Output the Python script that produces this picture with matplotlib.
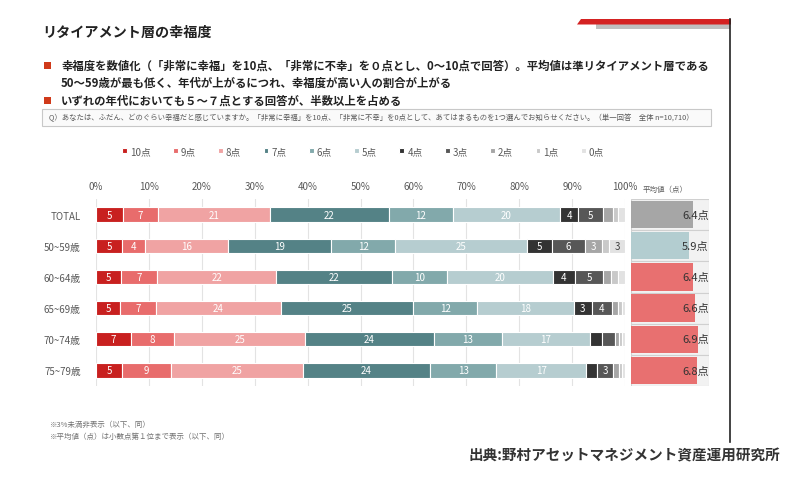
import matplotlib
matplotlib.use('Agg')
import matplotlib.pyplot as plt
from matplotlib.patches import Rectangle, Polygon
import numpy as np

plt.rcParams['font.family'] = ['Noto Sans CJK JP', 'DejaVu Sans']

# --- data ---
groups = ['TOTAL', '50~59歳', '60~64歳', '65~69歳', '70~74歳', '75~79歳']
scores = ['10点', '9点', '8点', '7点', '6点', '5点', '4点', '3点', '2点', '1点', '0点']

total = [5.1, 6.6, 21.2, 22.4, 12.1, 20.3, 3.5, 4.6, 2.0, 0.9, 1.3]
age_50_59 = [4.9, 4.4, 15.7, 19.4, 12.2, 24.9, 4.7, 6.2, 3.2, 1.4, 3.0]
age_60_64 = [4.7, 6.9, 22.4, 22.0, 10.3, 20.0, 4.2, 5.4, 1.4, 1.3, 1.4]
age_65_69 = [4.6, 6.7, 23.7, 25.0, 12.1, 18.2, 3.4, 3.8, 1.2, 0.7, 0.6]
age_70_74 = [6.6, 8.2, 24.7, 24.3, 12.9, 16.6, 2.4, 2.4, 0.7, 0.6, 0.6]
age_75_79 = [4.9, 9.3, 25.0, 23.9, 12.6, 16.9, 2.2, 3.0, 1.1, 0.5, 0.6]

averages = [6.4, 5.9, 6.4, 6.6, 6.9, 6.8]

seg_colors = ['#c8201f', '#e86c6c', '#f0a3a3', '#548286', '#82a9ab', '#b6cdd0',
              '#333333', '#575757', '#a6a6a6', '#c9c9c9', '#e2e2e2']
avg_colors = ['#a6a6a6', '#b3cdd0', '#e87070', '#e87070', '#e87070', '#e87070']

shares = np.array([total, age_50_59, age_60_64, age_65_69, age_70_74, age_75_79])

W, H = 789, 481
fig = plt.figure(figsize=(W / 100, H / 100), dpi=100)

def fx(px):
    return px / W

def fy(py):
    return 1 - py / H

# background overlay in pixel coordinates for decorations and text
bg = fig.add_axes([0, 0, 1, 1], zorder=0)
bg.set_xlim(0, W)
bg.set_ylim(H, 0)
bg.axis('off')

bg.add_patch(Rectangle((596, 25), 134, 5, color='#bfbfbf', lw=0))
bg.add_patch(Polygon([(577, 25.5), (581, 20), (731, 20), (731, 25.5)], closed=True,
                     color='#d42222', lw=0))
bg.plot([730.5, 730.5], [20, 443], color='#222222', lw=1.2)

bg.text(42, 33, 'リタイアメント層の幸福度', fontsize=10.2, fontweight='bold',
        color='#222222', va='center', ha='left')

bullet_c = '#d03a1a'
for yy in (66, 101):
    bg.add_patch(Rectangle((44, yy - 3.5), 7, 7, color=bullet_c, lw=0))
bg.text(61, 66, '幸福度を数値化（「非常に幸福」を10点、「非常に不幸」を０点とし、0～10点で回答）。平均値は準リタイアメント層である',
        fontsize=8.2, fontweight='bold', color='#222222', va='center')
bg.text(61, 83, '50～59歳が最も低く、年代が上がるにつれ、幸福度が高い人の割合が上がる',
        fontsize=8.2, fontweight='bold', color='#222222', va='center')
bg.text(61, 101, 'いずれの年代においても５～７点とする回答が、半数以上を占める',
        fontsize=8.2, fontweight='bold', color='#222222', va='center')

bg.add_patch(Rectangle((42, 110), 669, 17, facecolor='#fafafa', edgecolor='#c8c8c8', lw=0.8))
bg.text(49, 118.5, 'Q）あなたは、ふだん、どのぐらい幸福だと感じていますか。「非常に幸福」を10点、「非常に不幸」を0点として、あてはまるものを1つ選んでお知らせください。（単一回答　全体 n=10,710）',
        fontsize=5.3, color='#595959', va='center')

bg.text(665, 190, '平均値（点）', fontsize=5.4, color='#595959', va='center', ha='center')

bg.text(50, 425, '※3%未満非表示（以下、同）', fontsize=5.4, color='#707070', va='center')
bg.text(50, 437, '※平均値（点）は小数点第１位まで表示（以下、同）', fontsize=5.4, color='#707070', va='center')

bg.text(780, 455, '出典:野村アセットマネジメント資産運用研究所', fontsize=10.5, fontweight='bold',
        color='#333333', va='center', ha='right')

# --- main stacked bar chart ---
ax = fig.add_axes([fx(96), fy(387), fx(625) - fx(96), fy(200) - fy(387)], zorder=2)
ax.patch.set_alpha(0)
y = np.arange(len(groups))
left = np.zeros(len(groups))
for j, sc in enumerate(scores):
    vals = shares[:, j]
    bars = ax.barh(y, vals, left=left, height=0.46, color=seg_colors[j],
                   edgecolor='white', linewidth=0.8, label=sc, zorder=3)
    txt_c = '#404040' if j >= 9 else 'white'
    labels = [f'{v:.0f}' if v >= 2.95 else '' for v in vals]
    ax.bar_label(bars, labels=labels, label_type='center', color=txt_c, fontsize=7)
    left += vals

ax.set_xlim(0, 100)
ax.set_ylim(len(groups) - 0.5, -0.5)
ax.set_xticks(np.arange(0, 101, 10))
ax.set_xticklabels([f'{t}%' for t in range(0, 101, 10)])
ax.xaxis.tick_top()
ax.set_yticks(y)
ax.set_yticklabels(groups)
ax.tick_params(axis='both', length=0, labelsize=7, labelcolor='#595959')
ax.tick_params(axis='x', pad=6)
ax.tick_params(axis='y', pad=11)
for s in ax.spines.values():
    s.set_visible(False)
ax.grid(axis='x', color='#e3e3e3', lw=0.8, zorder=0)
ax.set_axisbelow(True)

fig.legend(*ax.get_legend_handles_labels(), loc='center', bbox_to_anchor=(fx(363), fy(152)),
           ncol=11, frameon=False, fontsize=7, handlelength=0.5, handleheight=0.5,
           handletextpad=0.3, columnspacing=2.3, labelcolor='#595959')

# --- average panel ---
ax2 = fig.add_axes([fx(631), fy(387), fx(709) - fx(631), fy(200) - fy(387)], zorder=2)
for i in range(len(groups)):
    ax2.add_patch(Rectangle((0, i - 0.5), 8, 1, facecolor='#f2f2f2', edgecolor='#d0d0d0',
                            lw=0.8, zorder=1))
ax2.barh(y, averages, height=0.88, color=avg_colors, zorder=2)
for i, v in enumerate(averages):
    ax2.text(7.98, i, f'{v}点', ha='right', va='center', fontsize=8, color='#333333', zorder=3)
ax2.set_xlim(0, 8)
ax2.set_ylim(len(groups) - 0.5, -0.5)
ax2.axis('off')

fig.savefig('out.png', dpi=100)
